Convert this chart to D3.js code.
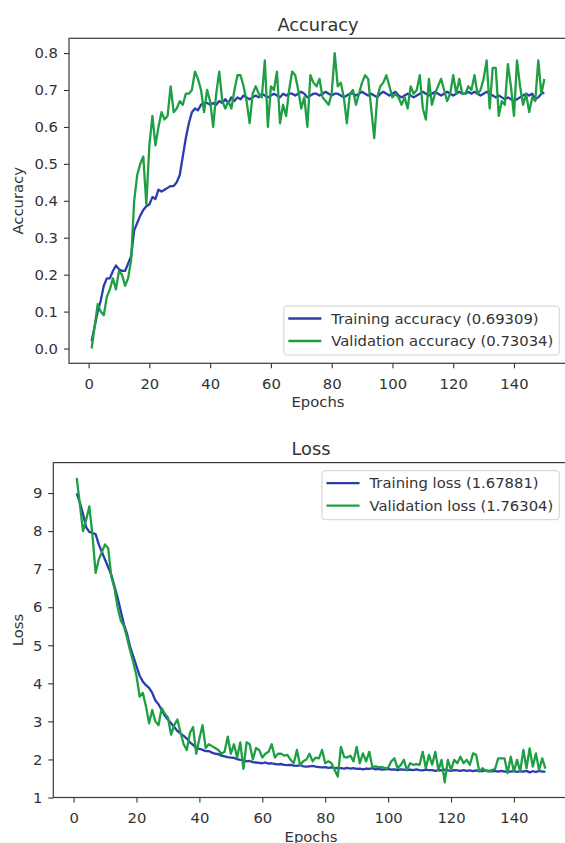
<!DOCTYPE html>
<html>
<head>
<meta charset="utf-8">
<script src="https://cdn.jsdelivr.net/npm/d3@7"></script>
<style>
body { margin: 0; background: #fff; }
text { font-family: "DejaVu Sans", sans-serif; fill: #333; }
</style>
</head>
<body>
<div id="chart"></div>
<script>
/* global d3 */

// Epochs 1..150
const epochs = d3.range(1, 151)
const xTicks = [0, 20, 40, 60, 80, 100, 120, 140]
const accTicks = [0.0, 0.1, 0.2, 0.3, 0.4, 0.5, 0.6, 0.7, 0.8]
const lossTicks = [1, 2, 3, 4, 5, 6, 7, 8, 9]

const trainAcc = [
  0.02, 0.06, 0.10, 0.13, 0.17, 0.19, 0.19, 0.21, 0.225, 0.215,
  0.21, 0.21, 0.23, 0.25, 0.32, 0.34, 0.36, 0.375, 0.385, 0.39,
  0.41, 0.405, 0.43, 0.425, 0.43, 0.435, 0.44, 0.44, 0.45, 0.47,
  0.52, 0.57, 0.61, 0.64, 0.65, 0.645, 0.66, 0.665, 0.665, 0.66,
  0.665, 0.66, 0.67, 0.665, 0.675, 0.665, 0.68, 0.67, 0.68, 0.675,
  0.685, 0.68, 0.675, 0.68, 0.685, 0.68, 0.69, 0.685, 0.68, 0.685,
  0.69, 0.685, 0.68, 0.69, 0.685, 0.69, 0.69, 0.685, 0.69, 0.695,
  0.69, 0.68, 0.685, 0.69, 0.69, 0.685, 0.69, 0.695, 0.69, 0.685,
  0.69, 0.69, 0.685, 0.68, 0.685, 0.69, 0.69, 0.685, 0.69, 0.695,
  0.69, 0.685, 0.69, 0.685, 0.68, 0.69, 0.695, 0.69, 0.685, 0.69,
  0.695, 0.685, 0.68, 0.685, 0.69, 0.685, 0.68, 0.685, 0.69, 0.695,
  0.69, 0.685, 0.69, 0.695, 0.69, 0.685, 0.69, 0.695, 0.69, 0.685,
  0.69, 0.695, 0.69, 0.69, 0.695, 0.69, 0.695, 0.69, 0.685, 0.69,
  0.695, 0.69, 0.685, 0.68, 0.685, 0.68, 0.675, 0.68, 0.675, 0.67,
  0.675, 0.68, 0.685, 0.69, 0.685, 0.69, 0.675, 0.68, 0.69, 0.693
]

const valAcc = [
  0.00, 0.06, 0.12, 0.10, 0.09, 0.14, 0.16, 0.19, 0.16, 0.21,
  0.20, 0.17, 0.19, 0.24, 0.40, 0.47, 0.50, 0.52, 0.39, 0.55,
  0.63, 0.55, 0.60, 0.64, 0.62, 0.63, 0.71, 0.64, 0.65, 0.67,
  0.66, 0.69, 0.69, 0.70, 0.75, 0.73, 0.70, 0.64, 0.70, 0.67,
  0.60, 0.69, 0.75, 0.67, 0.65, 0.67, 0.65, 0.70, 0.74, 0.74,
  0.71, 0.67, 0.61, 0.69, 0.71, 0.69, 0.68, 0.78, 0.60, 0.71,
  0.70, 0.75, 0.61, 0.66, 0.63, 0.70, 0.75, 0.74, 0.70, 0.65,
  0.68, 0.60, 0.74, 0.72, 0.71, 0.73, 0.68, 0.67, 0.66, 0.69,
  0.80, 0.71, 0.72, 0.68, 0.61, 0.69, 0.70, 0.66, 0.69, 0.72,
  0.74, 0.73, 0.65, 0.57, 0.68, 0.71, 0.72, 0.74, 0.71, 0.68,
  0.69, 0.68, 0.66, 0.68, 0.65, 0.71, 0.69, 0.70, 0.74, 0.65,
  0.62, 0.73, 0.66, 0.69, 0.71, 0.73, 0.70, 0.67, 0.69, 0.74,
  0.69, 0.73, 0.69, 0.69, 0.71, 0.70, 0.74, 0.69, 0.70, 0.73,
  0.78, 0.65, 0.76, 0.76, 0.63, 0.67, 0.66, 0.77, 0.71, 0.63,
  0.78, 0.71, 0.66, 0.69, 0.64, 0.68, 0.67, 0.78, 0.69, 0.73
]

const trainLoss = [
  8.99, 8.75, 8.45, 8.10, 7.98, 7.95, 7.92, 7.65, 7.45, 7.25,
  7.05, 6.85, 6.55, 6.25, 5.90, 5.55, 5.30, 4.95, 4.70, 4.45,
  4.20, 4.05, 3.95, 3.88, 3.75, 3.55, 3.45, 3.30, 3.15, 3.05,
  2.95, 2.85, 2.75, 2.68, 2.62, 2.55, 2.45, 2.38, 2.30, 2.28,
  2.25, 2.22, 2.22, 2.18, 2.15, 2.14, 2.10, 2.08, 2.06, 2.05,
  2.04, 2.01, 1.99, 1.98, 1.95, 1.96, 1.93, 1.92, 1.91, 1.90,
  1.92, 1.89, 1.90, 1.88, 1.87, 1.88, 1.86, 1.85, 1.86, 1.84,
  1.83, 1.85, 1.82, 1.81, 1.82, 1.83, 1.81, 1.80, 1.79, 1.80,
  1.78, 1.79, 1.77, 1.78, 1.77, 1.76, 1.78, 1.76, 1.77, 1.75,
  1.76, 1.74, 1.76, 1.75, 1.77, 1.74, 1.75, 1.73, 1.74, 1.75,
  1.73, 1.74, 1.72, 1.74, 1.73, 1.72, 1.73, 1.72, 1.74, 1.72,
  1.71, 1.73, 1.72, 1.72, 1.70, 1.72, 1.71, 1.73, 1.71, 1.70,
  1.72, 1.71, 1.70, 1.72, 1.70, 1.71, 1.69, 1.71, 1.70, 1.69,
  1.71, 1.70, 1.69, 1.70, 1.68, 1.70, 1.68, 1.69, 1.68, 1.70,
  1.67, 1.69, 1.68, 1.70, 1.66, 1.69, 1.67, 1.70, 1.68, 1.679
]

const valLoss = [
  9.40, 8.70, 8.00, 8.30, 8.65, 7.90, 6.90, 7.25, 7.45, 7.65,
  7.55, 6.80, 6.50, 6.00, 5.65, 5.50, 5.20, 4.85, 4.55, 4.20,
  3.65, 3.75, 3.40, 2.95, 3.30, 3.00, 2.90, 3.35, 3.20, 3.10,
  2.65, 2.90, 3.05, 2.70, 2.40, 2.25, 2.70, 2.85, 2.15, 2.55,
  2.90, 2.30, 2.40, 2.35, 2.30, 2.25, 2.15, 2.20, 2.60, 2.15,
  2.40, 2.05, 2.45, 1.75, 2.45, 2.40, 2.00, 2.30, 2.25, 2.05,
  2.15, 2.20, 2.40, 2.05, 2.15, 2.15, 2.10, 2.12, 1.99, 1.90,
  2.25, 1.85, 1.95, 2.00, 2.15, 1.95, 2.05, 2.03, 2.25, 1.90,
  1.95, 1.90, 1.72, 1.55, 2.33, 2.07, 2.05, 2.10, 1.95, 2.33,
  1.90, 2.16, 1.95, 2.20, 1.80, 1.82, 1.80, 1.80, 1.77, 1.78,
  1.95, 2.03, 1.77, 1.85, 1.99, 1.72, 1.90, 1.86, 1.88, 1.86,
  2.20, 1.77, 2.12, 1.86, 2.20, 1.72, 1.99, 1.40, 1.99, 1.72,
  1.99, 1.90, 2.07, 1.90, 1.99, 1.86, 2.16, 2.12, 1.68, 1.77,
  1.70, 1.68, 1.72, 1.75, 2.03, 2.03, 2.03, 1.64, 2.07, 1.68,
  1.99, 1.68, 2.25, 1.77, 2.29, 1.81, 2.16, 1.72, 2.03, 1.76
]

const seriesNames = {
  acc: ['Training accuracy (0.69309)', 'Validation accuracy (0.73034)'],
  loss: ['Training loss (1.67881)', 'Validation loss (1.76304)']
}

const colors = ['#2b3bb0', '#1e9f44']

// Our canvas
const width = 565, height = 843

let svg = d3.select('#chart')
  .append('svg')
  .attr('width', width)
  .attr('height', height)

// matplotlib style 5% margins
let padded = (ext) => {
  const m = (ext[1] - ext[0]) * 0.05
  return [ext[0] - m, ext[1] + m]
}

let drawPanel = (p) => {
  const g = svg.append('g')

  const x = d3.scaleLinear()
    .domain(padded(d3.extent(epochs)))
    .range([p.left, p.right])

  const y = d3.scaleLinear()
    .domain(padded(d3.extent(p.series[0].concat(p.series[1]))))
    .range([p.bottom, p.top])

  // x axis
  const xAxis = g.append('g')
    .attr('transform', `translate(0,${p.bottom})`)
    .call(d3.axisBottom(x).tickValues(xTicks).tickSize(5).tickPadding(10))
  xAxis.select('.domain').remove()

  // y axis
  const yAxis = g.append('g')
    .attr('transform', `translate(${p.left},0)`)
    .call(d3.axisLeft(y).tickValues(p.yTicks).tickFormat(p.fmt).tickSize(5).tickPadding(6))
  yAxis.select('.domain').remove()

  g.selectAll('.tick line').attr('stroke', '#333').attr('stroke-width', 1.1)
  g.selectAll('.tick text')
    .style('font-size', '14.8px')
    .style('font-family', '"DejaVu Sans", sans-serif')
    .attr('fill', '#333')

  // lines
  const line = d3.line()
    .x((d, i) => x(epochs[i]))
    .y(d => y(d))

  g.selectAll('path.series')
    .data(p.series)
    .enter()
    .append('path')
    .attr('class', 'series')
    .attr('d', line)
    .attr('fill', 'none')
    .attr('stroke', (d, i) => colors[i])
    .attr('stroke-width', 2.3)
    .attr('stroke-linejoin', 'round')

  // spines
  g.append('rect')
    .attr('x', p.left)
    .attr('y', p.top)
    .attr('width', p.right - p.left)
    .attr('height', p.bottom - p.top)
    .attr('fill', 'none')
    .attr('stroke', '#3a3a3a')
    .attr('stroke-width', 1.2)

  // title + labels
  g.append('text')
    .attr('x', (p.left + p.right) / 2)
    .attr('y', p.top - 7.5)
    .attr('text-anchor', 'middle')
    .style('font-size', '17.8px')
    .text(p.title)

  g.append('text')
    .attr('x', (p.left + p.right) / 2)
    .attr('y', p.bottom + 44)
    .attr('text-anchor', 'middle')
    .style('font-size', '14.8px')
    .text('Epochs')

  g.append('text')
    .attr('transform', `translate(23,${(p.top + p.bottom) / 2}) rotate(-90)`)
    .attr('text-anchor', 'middle')
    .style('font-size', '14.8px')
    .text(p.ylabel)

  // legend
  const leg = g.append('g')
  const box = leg.append('rect')
  const rows = leg.selectAll('g.row')
    .data(p.names)
    .enter()
    .append('g')
    .attr('class', 'row')
    .attr('transform', (d, i) => `translate(0,${12.5 + i * 22.5})`)
  rows.append('line')
    .attr('x1', 4.5).attr('x2', 37.5)
    .attr('stroke', (d, i) => colors[i])
    .attr('stroke-width', 2.3)
  rows.append('text')
    .attr('x', 47.5)
    .attr('dy', '0.35em')
    .style('font-size', '14.8px')
    .text(d => d)

  let tw = 0
  rows.selectAll('text').each(function () { tw = Math.max(tw, this.getComputedTextLength()) })
  const lw = 47.5 + tw + 6, lh = 49
  box.attr('width', lw).attr('height', lh)
    .attr('rx', 3)
    .attr('fill', '#fff')
    .attr('fill-opacity', 0.85)
    .attr('stroke', '#d0d0d0')
  const lx = p.legendRight - lw
  const ly = p.legendPos === 'lower' ? p.bottom - 8.3 - lh : p.top + 8.1
  leg.attr('transform', `translate(${lx},${ly})`)
}

drawPanel({
  left: 69, right: 567, top: 38.3, bottom: 363.3,
  series: [trainAcc, valAcc],
  names: seriesNames.acc,
  yTicks: accTicks,
  fmt: d3.format('.1f'),
  title: 'Accuracy',
  ylabel: 'Accuracy',
  legendPos: 'lower',
  legendRight: 559.3
})

drawPanel({
  left: 53.3, right: 568.8, top: 462.6, bottom: 797.5,
  series: [trainLoss, valLoss],
  names: seriesNames.loss,
  yTicks: lossTicks,
  fmt: d3.format('d'),
  title: 'Loss',
  ylabel: 'Loss',
  legendPos: 'upper',
  legendRight: 559.3
})
</script>
</body>
</html>
